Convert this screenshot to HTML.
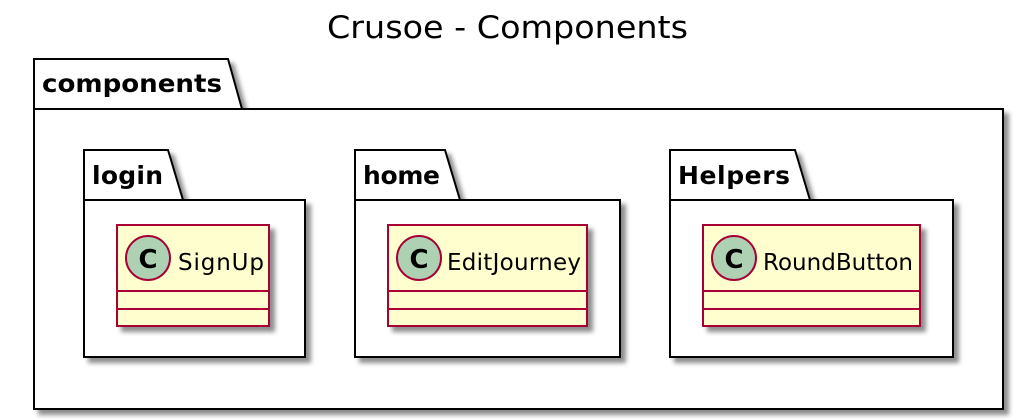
<!DOCTYPE html>
<html><head><style>body{margin:0;background:#fff}svg{display:block}</style></head><body>
<svg width="1036" height="420" xmlns="http://www.w3.org/2000/svg" font-family="DejaVu Sans, Liberation Sans, sans-serif">
<defs><filter id="s" x="-10%" y="-10%" width="130%" height="130%"><feGaussianBlur in="SourceAlpha" stdDeviation="2.5"/><feOffset dx="5" dy="5"/><feComponentTransfer><feFuncA type="linear" slope="0.45"/></feComponentTransfer><feMerge><feMergeNode/><feMergeNode in="SourceGraphic"/></feMerge></filter></defs>
<text x="327" y="38" font-size="31" textLength="361" lengthAdjust="spacingAndGlyphs">Crusoe - Components</text>
<g filter="url(#s)" stroke="#000" stroke-width="2" fill="#fff">
<path d="M34,59 H228 L242,109 H1003 V409 H34 Z"/>
<line x1="34" y1="109" x2="242" y2="109"/>
</g>
<text x="42" y="92" font-size="25" font-weight="bold" textLength="180" lengthAdjust="spacingAndGlyphs">components</text>
<g stroke="#000" stroke-width="2" fill="#fff" filter="url(#s)">
<path d="M84,150 H168 L183,200 H305 V357 H84 Z"/>
<path d="M355,150 H445 L460,200 H620 V357 H355 Z"/>
<path d="M670,150 H795 L810,200 H953 V357 H670 Z"/>
</g>
<g stroke="#000" stroke-width="2"><line x1="84" y1="200" x2="183" y2="200"/><line x1="355" y1="200" x2="460" y2="200"/><line x1="670" y1="200" x2="810" y2="200"/></g>
<g font-size="25" font-weight="bold" lengthAdjust="spacingAndGlyphs"><text x="92" y="184" textLength="71">login</text><text x="363" y="184" textLength="77">home</text><text x="678" y="184" textLength="112">Helpers</text></g>
<g stroke="#A80036" stroke-width="2" fill="#FEFECE">
<rect x="117" y="225" width="152" height="101" filter="url(#s)"/>
<rect x="388" y="225" width="199" height="101" filter="url(#s)"/>
<rect x="703" y="225" width="217" height="101" filter="url(#s)"/>
<path d="M117,291H269M117,309H269M388,291H587M388,309H587M703,291H920M703,309H920"/>
<circle cx="148" cy="258" r="22" fill="#ADD1B2"/>
<circle cx="419" cy="258" r="22" fill="#ADD1B2"/>
<circle cx="734" cy="258" r="22" fill="#ADD1B2"/>
</g>
<g font-size="26" font-weight="bold" text-anchor="middle"><text x="148" y="268">C</text><text x="419" y="268">C</text><text x="734" y="268">C</text></g>
<g font-size="23" lengthAdjust="spacingAndGlyphs"><text x="178" y="270" textLength="86">SignUp</text><text x="447" y="270" textLength="134">EditJourney</text><text x="763" y="270" textLength="150">RoundButton</text></g>
</svg>
</body></html>
